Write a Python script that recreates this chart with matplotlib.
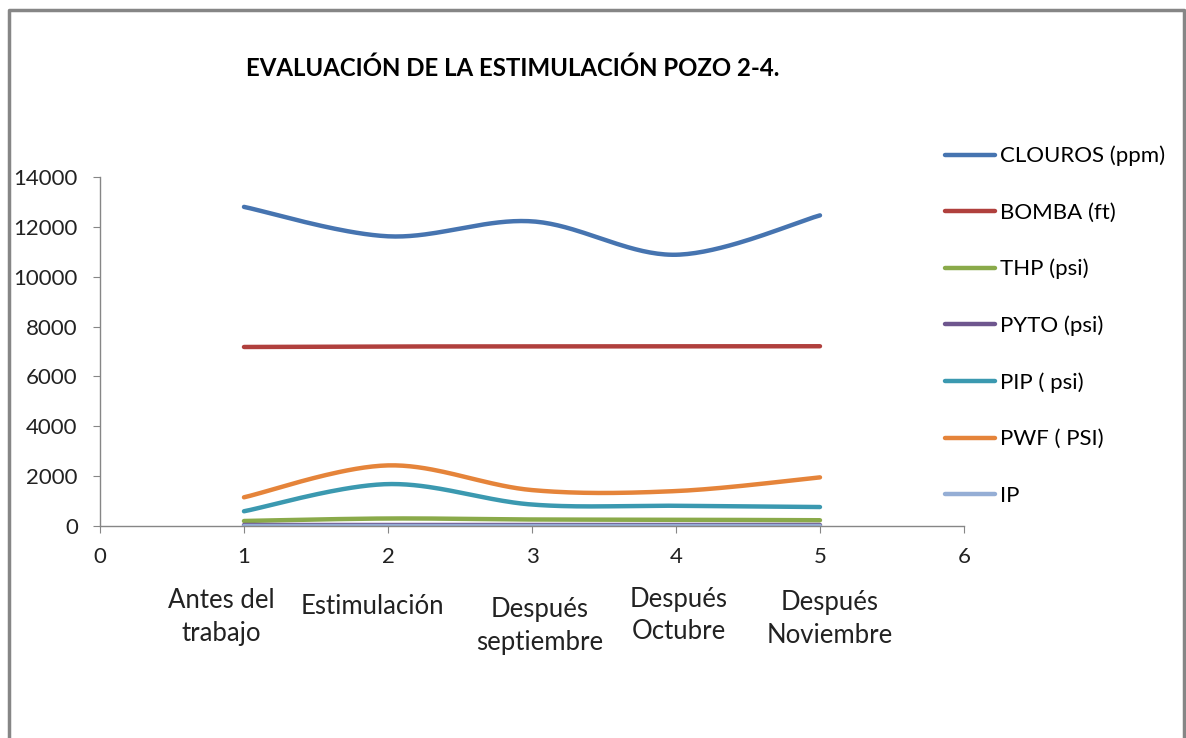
import matplotlib
matplotlib.use("Agg")
import matplotlib.pyplot as plt
import numpy as np
from matplotlib.lines import Line2D

plt.rcParams["font.family"] = ["Lato", "DejaVu Sans"]

TITLE = "EVALUACIÓN DE LA ESTIMULACIÓN POZO 2-4."

x_points = [1, 2, 3, 4, 5]
stage_labels = [
    "Antes del\ntrabajo",
    "Estimulación",
    "Después\nseptiembre",
    "Después\nOctubre",
    "Después\nNoviembre",
]

clouros = [12800, 11620, 12220, 10880, 12460]
bomba = [7180, 7200, 7200, 7200, 7210]
thp = [200, 300, 260, 250, 230]
pyto = [40, 40, 40, 40, 40]
pip = [590, 1680, 860, 810, 760]
pwf = [1150, 2430, 1440, 1400, 1950]
ip = [5, 5, 5, 5, 5]

SERIES = [
    ("CLOUROS (ppm)", clouros, "#4674B0"),
    ("BOMBA (ft)", bomba, "#B0403D"),
    ("THP (psi)", thp, "#8AAA4A"),
    ("PYTO (psi)", pyto, "#6E568E"),
    ("PIP ( psi)", pip, "#3B99B0"),
    ("PWF ( PSI)", pwf, "#E5843A"),
    ("IP", ip, "#95AED5"),
]

GREY = "#868686"
AX_LEFT, AX_BOTTOM, AX_W, AX_H = 0.0843, 0.2873, 0.7285, 0.4729


def smooth(xs, ys, n=40):
    # excel-like smoothed line: bezier segments through every point
    p = np.column_stack([xs, ys]).astype(float)
    ext = np.vstack([p[0], p, p[-1]])
    out = []
    for i in range(len(p) - 1):
        p0, p1 = ext[i + 1], ext[i + 2]
        c1 = p0 + (ext[i + 2] - ext[i]) / 6
        c2 = p1 - (ext[i + 3] - ext[i + 1]) / 6
        t = np.linspace(0, 1, n)[:, None]
        seg = (1 - t) ** 3 * p0 + 3 * (1 - t) ** 2 * t * c1 + 3 * (1 - t) * t ** 2 * c2 + t ** 3 * p1
        out.append(seg if i == 0 else seg[1:])
    seg = np.vstack(out)
    return seg[:, 0], seg[:, 1]


fig = plt.figure(figsize=(11.86, 7.38), dpi=100)
ax = fig.add_axes([AX_LEFT, AX_BOTTOM, AX_W, AX_H])

handles = []
for name, values, color in SERIES:
    sx, sy = smooth(x_points, values)
    (line,) = ax.plot(sx, sy, color=color, lw=3.2, solid_capstyle="round", label=name)
    handles.append(line)

ax.set_xlim(0, 6)
ax.set_ylim(0, 14000)
ax.set_xticks(range(0, 7))
ax.set_yticks(range(0, 14001, 2000))
for side in ("top", "right"):
    ax.spines[side].set_visible(False)
for side in ("left", "bottom"):
    ax.spines[side].set_color(GREY)
    ax.spines[side].set_linewidth(1.0)
ax.tick_params(axis="both", direction="out", color=GREY, length=5, labelsize=16, labelcolor="#222222")
ax.tick_params(axis="x", pad=10)
ax.tick_params(axis="y", pad=11)

# category names under the numeric x axis, staggered as in the original
label_shift = [-0.16, -0.11, 0.05, 0.02, 0.07]
label_top = [0.203, 0.195, 0.191, 0.205, 0.200]
for x, lab, dx, ty in zip(x_points, stage_labels, label_shift, label_top):
    fig.text(AX_LEFT + AX_W * (x + dx) / 6, ty, lab, ha="center", va="top",
             fontsize=18.5, color="#222222", linespacing=1.38)

fig.text(0.432, 0.908, TITLE, ha="center", va="center", fontsize=17.3, fontweight="bold")

ax.legend(handles=handles, loc="upper left", bbox_to_anchor=(0.7876, 0.8175),
          bbox_transform=fig.transFigure, frameon=False, fontsize=16,
          handlelength=2.25, handletextpad=0.2, labelspacing=1.63, borderpad=0)

# outer chart border (bottom edge falls outside the image)
fig.add_artist(Line2D([0.0078, 0.0078, 0.9985, 0.9985], [-0.05, 0.9865, 0.9865, -0.05],
                      transform=fig.transFigure, color=GREY, lw=2.5))

fig.savefig("out.png", dpi=100)
